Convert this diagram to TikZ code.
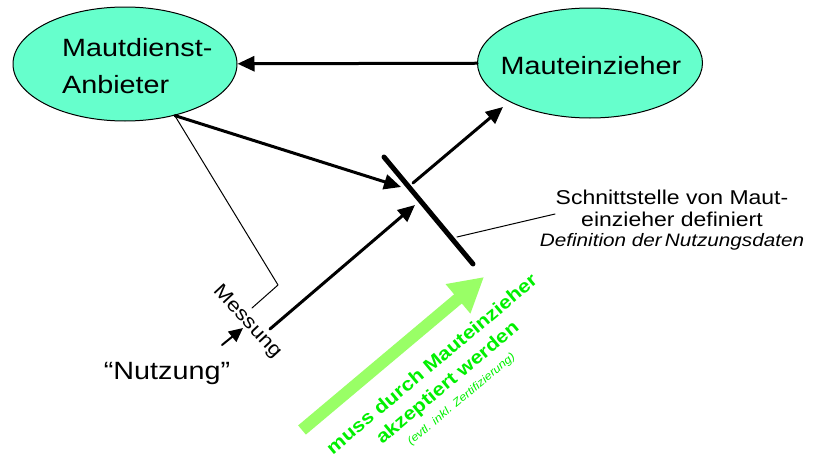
\documentclass[tikz,border=0pt]{standalone}
\usepackage{fontspec}
\setmainfont{Liberation Sans}[FakeStretch=1.15]
\usetikzlibrary{arrows.meta,shapes.geometric}

\definecolor{mautfill}{HTML}{66FFCC}
\definecolor{accgreen}{HTML}{99FF66}
\definecolor{acctext}{HTML}{00F000}

\begin{document}
\begin{tikzpicture}[
  x=1pt, y=-1pt,
  line cap=round,
  line join=round,
  every node/.style={inner sep=0pt},
  party/.style={ellipse,draw,fill=mautfill,line width=1pt},
  partytext/.style={align=left,font=\fontsize{25}{37}\selectfont},
  conn/.style={line width=3pt,-{Triangle[length=17pt,width=15pt]}},
  thin/.style={line width=1pt},
  bar/.style={line width=5pt},
  accept/.style={accgreen,line width=12pt,line cap=butt,
    -{Triangle[length=34pt,width=36pt]}}
]
\useasboundingbox (0,0) rectangle (814,458);

% ------------------------------------------------------------------
% Parties
% ------------------------------------------------------------------
\node[party,minimum width=224pt,minimum height=114pt] (anb) at (125,64) {};
\node[partytext,anchor=west] (anbtxt) at (62,66) {Mautdienst-\\Anbieter};
\node[party,minimum width=225pt,minimum height=110pt] (mei) at (590,63) {};
\node[partytext] (meitxt) at (591,66) {Mauteinzieher};

\draw[conn] (mei) -- (anb);

% ------------------------------------------------------------------
% Interface
% ------------------------------------------------------------------
\coordinate (bt) at (384,157);
\coordinate (bb) at (473,264);
\draw[bar] (bt) -- (bb);

\coordinate (in1) at (401,187);
\coordinate (in2) at (415,205);
\coordinate (out) at (413,183);
\coordinate (mt) at (503,107);
\coordinate (nz) at (270,329);

\draw[conn] (anb.-46) -- (in1);
\draw[conn] (nz) -- (in2);
\draw[conn] (out) -- (mt);

% measuring
\coordinate (mk) at (278,285);
\coordinate (mm) at (252,308);
\draw[thin] (anb.-46) -- (mk) -- (mm);
\node[rotate=-47,font=\fontsize{19.5}{20}\selectfont] (mess) at (247,322) {Messung};

\coordinate (ua) at (222,345);
\coordinate (ub) at (243,328);
\draw[line width=2pt,-{Triangle[length=14pt,width=13pt]}] (ua) -- (ub);
\node[anchor=base,font=\fontsize{25}{30}\selectfont] (nutz) at (167,379)
  {“Nutzung”};

% interface label
\coordinate (bp) at (457,237);
\coordinate (sl) at (555,214);
\draw[thin] (bp) -- (sl);
\node[anchor=north,align=center,font=\fontsize{20}{22}\selectfont] (schn)
  at (672,190)
  {Schnittstelle von Maut-\\
   einzieher definiert\\[-2pt]
   {\fontsize{18}{22}\selectfont\itshape Definition der\,Nutzungsdaten}};

% ------------------------------------------------------------------
% Acceptance
% ------------------------------------------------------------------
\coordinate (ga) at (302,430);
\coordinate (gb) at (484,277);
\draw[accept] (ga) -- (gb);

\node[rotate=40,align=center,text=acctext,font=\fontsize{18.5}{24}\selectfont]
  (acc) at (446,381)
  {\bfseries muss durch Mauteinzieher\\
   \bfseries akzeptiert werden\\[-5pt]
   {\fontsize{11}{24}\selectfont\itshape (evtl. inkl. Zertifizierung)}};

\end{tikzpicture}
\end{document}
